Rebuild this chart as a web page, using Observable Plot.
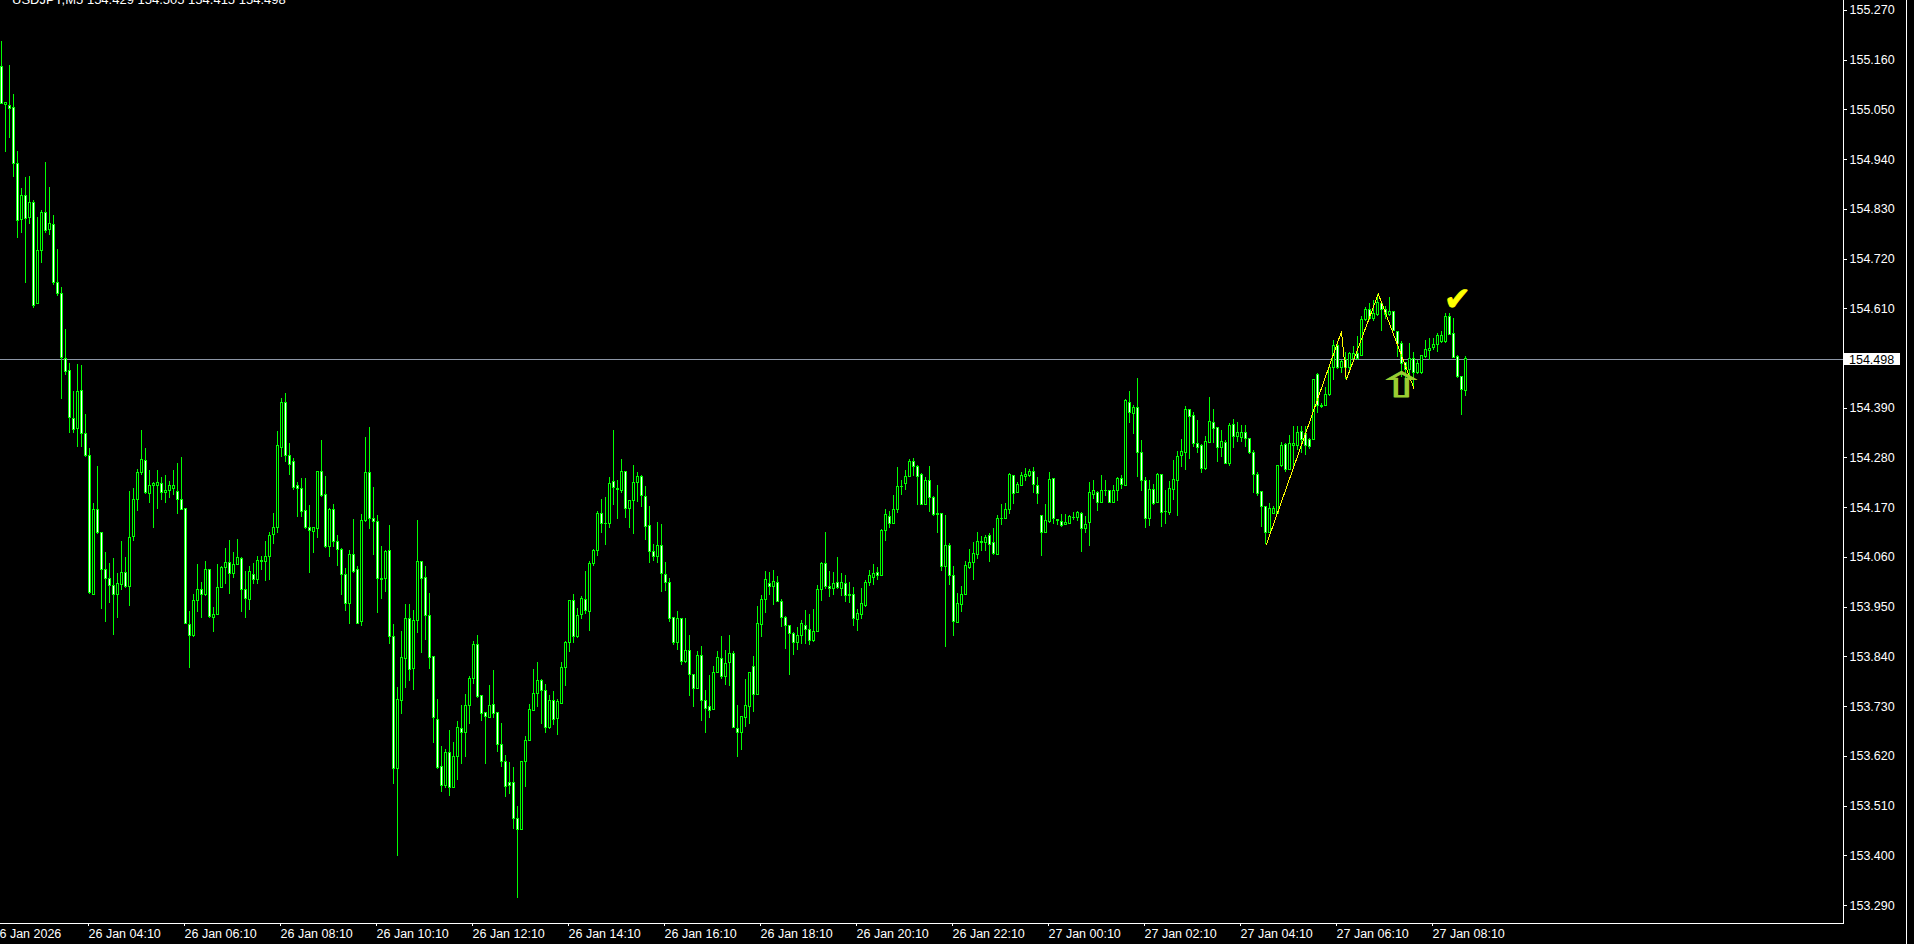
<!DOCTYPE html>
<html>
<head>
<meta charset="utf-8">
<script src="https://cdn.jsdelivr.net/npm/d3@7"></script>
<script src="https://cdn.jsdelivr.net/npm/@observablehq/plot@0.6"></script>
<style>
html, body { margin: 0; padding: 0; background: #000; overflow: hidden; }
#wrap { position: relative; width: 1914px; height: 944px; background: #000; }
#edge { position: absolute; left: 1906px; top: 0; width: 1px; height: 944px; background: #fff; }
#wrap svg line, #wrap svg rect, #wrap svg path { shape-rendering: crispEdges; }
</style>
</head>
<body>
<div id="wrap"><div id="edge"></div></div>
<script>
// ---- data (USDJPY, M5, 26-27 Jan 2026) ----
const symbol = "USDJPY,M5";
const firstBarUTC = "2026-01-26T02:20:00Z";
const barMinutes = 5;

const open = [
155.144,155.060,155.059,155.054,154.931,154.807,154.860,154.810,154.845,154.621,
154.738,154.823,154.785,154.796,154.667,154.643,154.499,154.472,154.367,154.344,
154.429,154.334,154.285,153.978,154.166,154.115,154.033,154.013,153.997,153.978,
153.998,154.026,153.995,154.105,154.187,154.247,154.274,154.201,154.219,154.219,
154.223,154.203,154.208,154.212,154.204,154.187,154.168,153.911,153.886,153.964,
153.988,153.978,154.033,153.926,153.933,153.993,154.036,154.047,154.023,154.044,
154.057,153.989,153.965,154.021,154.010,154.050,154.050,154.061,154.109,154.125,
154.302,154.401,154.284,154.271,154.218,154.212,154.163,154.125,154.116,154.122,
154.248,154.199,154.083,154.165,154.094,154.077,154.021,153.956,154.066,154.033,
153.917,154.140,154.247,154.144,154.139,154.012,154.012,154.074,153.885,153.591,
153.742,153.836,153.924,153.814,153.919,154.051,154.014,153.931,153.840,153.701,
153.597,153.555,153.627,153.550,153.619,153.681,153.671,153.731,153.791,153.867,
153.754,153.715,153.705,153.733,153.715,153.646,153.608,153.560,153.560,153.482,
153.457,153.608,153.654,153.721,153.758,153.787,153.765,153.683,153.743,153.702,
153.735,153.816,153.870,153.964,153.884,153.933,153.966,153.939,154.046,154.075,
154.157,154.134,154.134,154.226,154.212,154.207,154.249,154.168,154.185,154.225,
154.238,154.194,154.130,154.072,154.061,154.086,154.022,154.004,153.926,153.870,
153.924,153.829,153.852,153.800,153.769,153.841,153.742,153.730,153.723,153.805,
153.836,153.795,153.827,153.847,153.681,153.672,153.705,153.729,153.818,153.755,
153.911,153.966,154.002,153.995,154.004,153.961,153.927,153.909,153.891,153.871,
153.887,153.909,153.900,153.875,153.895,153.989,154.046,153.995,153.991,154.004,
153.991,154.002,153.978,153.978,153.922,153.933,153.952,154.003,154.014,154.026,
154.019,154.118,154.149,154.135,154.166,154.215,154.222,154.238,154.272,154.259,
154.242,154.177,154.230,154.192,154.155,154.157,154.039,154.086,154.020,153.915,
153.955,153.978,154.037,154.048,154.065,154.093,154.092,154.107,154.091,154.066,
154.145,154.144,154.164,154.241,154.203,154.219,154.238,154.241,154.248,154.217,
154.151,154.114,154.138,154.234,154.142,154.138,154.132,154.135,154.147,154.147,
154.157,154.123,154.136,154.199,154.203,154.181,154.206,154.207,154.181,154.208,
154.234,154.218,154.402,154.378,154.391,154.291,154.229,154.145,154.209,154.180,
154.243,154.160,154.158,154.209,154.229,154.284,154.291,154.387,154.372,154.312,
154.306,154.256,154.313,154.357,154.346,154.302,154.313,154.266,154.352,154.326,
154.324,154.336,154.323,154.290,154.243,154.204,154.172,154.113,154.157,154.157,
154.263,154.308,154.253,154.306,154.306,154.337,154.334,154.320,154.320,154.464,
154.393,154.394,154.419,154.478,154.528,154.478,154.496,154.480,154.500,154.511,
154.505,154.586,154.608,154.588,154.596,154.620,154.608,154.596,154.603,154.559,
154.533,154.490,154.474,154.500,154.467,154.467,154.503,154.517,154.523,154.531,
154.536,154.536,154.593,154.555,154.503,154.459,154.429];

const high = [
155.202,155.066,155.149,155.084,154.958,154.877,154.901,154.903,154.850,154.811,
154.828,154.934,154.878,154.816,154.741,154.658,154.564,154.488,154.427,154.487,
154.485,154.377,154.301,154.180,154.261,154.116,154.071,154.047,154.058,154.025,
154.096,154.060,154.205,154.213,154.255,154.341,154.301,154.252,154.225,154.252,
154.236,154.241,154.228,154.253,154.268,154.281,154.168,153.941,153.978,154.044,
154.004,154.051,154.034,153.950,154.044,154.039,154.080,154.098,154.070,154.100,
154.059,154.028,154.040,154.047,154.062,154.062,154.095,154.115,154.157,154.338,
154.412,154.423,154.312,154.279,154.226,154.235,154.235,154.175,154.125,154.251,
154.318,154.239,154.168,154.177,154.108,154.080,154.036,154.075,154.144,154.040,
154.155,154.325,154.347,154.214,154.152,154.084,154.075,154.130,153.911,153.772,
153.896,153.956,153.956,153.943,154.142,154.051,154.040,153.980,153.840,153.746,
153.641,153.635,153.677,153.650,153.697,153.733,153.757,153.796,153.875,153.888,
153.754,153.715,153.777,153.810,153.716,153.693,153.622,153.606,153.595,153.509,
153.608,153.664,153.734,153.812,153.827,153.790,153.778,153.755,153.763,153.745,
153.827,153.873,153.963,153.978,153.948,153.973,154.029,154.050,154.077,154.162,
154.188,154.192,154.237,154.341,154.230,154.277,154.251,154.185,154.263,154.248,
154.241,154.217,154.173,154.088,154.137,154.133,154.048,154.014,153.926,153.940,
153.924,153.925,153.887,153.800,153.852,153.863,153.766,153.799,153.819,153.852,
153.885,153.854,153.887,153.852,153.732,153.707,153.790,153.805,153.841,153.952,
153.976,154.029,154.026,154.031,154.018,153.967,153.930,153.909,153.895,153.906,
153.921,153.943,153.934,153.945,153.997,154.049,154.115,154.028,154.026,154.060,
154.025,154.020,154.005,153.994,153.944,153.992,154.009,154.031,154.044,154.038,
154.121,154.166,154.162,154.197,154.259,154.231,154.253,154.276,154.279,154.264,
154.245,154.236,154.261,154.194,154.219,154.157,154.152,154.090,154.040,153.980,
153.995,154.050,154.078,154.093,154.115,154.106,154.109,154.113,154.125,154.152,
154.178,154.179,154.245,154.241,154.226,154.248,154.257,154.255,154.259,154.237,
154.151,154.178,154.248,154.234,154.144,154.155,154.155,154.152,154.159,154.161,
154.159,154.150,154.225,154.231,154.206,154.241,154.231,154.209,154.220,154.236,
154.241,154.410,154.428,154.397,154.456,154.319,154.237,154.231,154.222,154.245,
154.243,154.209,154.228,154.275,154.295,154.321,154.393,154.388,154.381,154.363,
154.310,154.327,154.413,154.388,154.346,154.340,154.318,154.357,154.365,154.358,
154.351,154.351,154.323,154.297,154.247,154.205,154.172,154.179,154.172,154.263,
154.315,154.312,154.330,154.349,154.349,154.349,154.349,154.323,154.453,154.466,
154.400,154.437,154.480,154.540,154.533,154.496,154.514,154.514,154.526,154.548,
154.592,154.614,154.621,154.629,154.642,154.627,154.615,154.635,154.603,154.560,
154.537,154.492,154.533,154.514,154.496,154.507,154.540,154.544,154.544,154.555,
154.559,154.599,154.599,154.588,154.507,154.459,154.505];

const low = [
155.062,154.955,154.987,154.901,154.765,154.776,154.667,154.796,154.611,154.621,
154.711,154.777,154.772,154.662,154.638,154.410,154.462,154.334,154.334,154.304,
154.303,154.281,153.978,153.976,154.111,153.944,153.915,153.959,153.888,153.924,
153.987,153.991,153.952,154.096,154.161,154.241,154.199,154.179,154.124,154.165,
154.187,154.180,154.191,154.198,154.154,154.164,153.911,153.815,153.883,153.938,
153.925,153.974,153.924,153.894,153.932,153.991,154.000,153.978,154.014,154.043,
153.939,153.926,153.943,154.000,154.000,154.032,154.006,154.009,154.089,154.113,
154.281,154.270,154.242,154.207,154.149,154.149,154.122,154.025,154.069,154.103,
154.193,154.080,154.060,154.082,154.039,153.976,153.941,153.912,154.025,153.911,
153.908,154.137,154.122,154.065,153.937,153.968,153.982,153.868,153.558,153.398,
153.713,153.771,153.786,153.766,153.891,153.848,153.877,153.812,153.649,153.590,
153.539,153.548,153.532,153.549,153.567,153.603,153.618,153.690,153.778,153.747,
153.698,153.603,153.705,153.704,153.629,153.596,153.530,153.536,153.459,153.306,
153.457,153.550,153.654,153.720,153.727,153.691,153.671,153.680,153.688,153.665,
153.735,153.775,153.850,153.869,153.881,153.923,153.934,153.897,154.039,154.061,
154.114,154.086,154.123,154.175,154.144,154.202,154.147,154.125,154.111,154.181,
154.170,154.098,154.046,154.052,154.047,153.983,153.985,153.915,153.865,153.854,
153.822,153.825,153.753,153.729,153.769,153.696,153.671,153.704,153.723,153.803,
153.791,153.777,153.775,153.681,153.618,153.633,153.683,153.691,153.718,153.755,
153.882,153.935,153.976,153.954,153.960,153.904,153.857,153.799,153.843,153.854,
153.867,153.868,153.866,153.871,153.895,153.963,153.990,153.972,153.976,153.989,
153.974,153.961,153.958,153.908,153.896,153.923,153.950,153.996,153.997,154.008,
154.017,154.096,154.125,154.132,154.157,154.196,154.208,154.238,154.238,154.175,
154.175,154.177,154.160,154.151,154.113,154.029,153.860,153.997,153.886,153.913,
153.939,153.975,154.033,154.009,154.056,154.073,154.073,154.048,154.064,154.064,
154.131,154.144,154.155,154.177,154.201,154.217,154.228,154.237,154.201,154.178,
154.063,154.114,154.136,154.133,154.130,154.127,154.131,154.133,154.142,154.140,
154.070,154.113,154.085,154.188,154.161,154.180,154.195,154.180,154.180,154.183,
154.210,154.218,154.356,154.332,154.236,154.205,154.123,154.129,154.175,154.179,
154.127,154.133,154.153,154.186,154.151,154.258,154.253,154.277,154.304,154.291,
154.245,154.253,154.313,154.313,154.270,154.281,154.266,154.262,154.302,154.314,
154.315,154.303,154.288,154.201,154.194,154.127,154.088,154.113,154.155,154.157,
154.260,154.249,154.253,154.256,154.297,154.290,154.286,154.298,154.319,154.378,
154.389,154.393,154.415,154.452,154.475,154.467,154.453,154.474,154.498,154.496,
154.505,154.581,154.585,154.583,154.593,154.559,154.587,154.592,154.559,154.503,
154.459,154.452,154.459,154.437,154.464,154.465,154.500,154.496,154.518,154.514,
154.533,154.533,154.551,154.500,154.455,154.373,154.415];

const close = [
155.064,155.066,155.053,154.931,154.804,154.860,154.809,154.845,154.617,154.738,
154.823,154.782,154.798,154.667,154.643,154.501,154.471,154.369,154.342,154.427,
154.334,154.284,153.981,154.164,154.113,154.032,154.013,153.997,153.976,154.001,
154.025,153.995,154.104,154.187,154.247,154.276,154.203,154.217,154.222,154.224,
154.203,154.208,154.218,154.218,154.188,154.166,153.913,153.886,153.964,153.988,
153.978,154.033,153.929,153.932,153.993,154.036,154.048,154.024,154.044,154.058,
153.989,153.967,154.027,154.010,154.052,154.052,154.061,154.107,154.125,154.307,
154.402,154.285,154.264,154.214,154.212,154.160,154.125,154.119,154.125,154.248,
154.197,154.083,154.164,154.094,154.076,154.021,153.956,154.066,154.027,153.913,
154.141,154.247,154.145,154.139,154.012,154.011,154.073,153.885,153.591,153.745,
153.837,153.924,153.811,153.919,154.051,154.012,153.931,153.838,153.704,153.594,
153.555,153.627,153.550,153.619,153.683,153.671,153.731,153.791,153.867,153.751,
153.713,153.707,153.731,153.713,153.645,153.608,153.553,153.554,153.482,153.457,
153.608,153.654,153.723,153.758,153.787,153.765,153.683,153.743,153.700,153.741,
153.816,153.870,153.963,153.884,153.931,153.968,153.941,154.046,154.075,154.157,
154.134,154.135,154.223,154.214,154.210,154.249,154.168,154.185,154.225,154.238,
154.196,154.128,154.072,154.061,154.086,154.024,154.004,153.924,153.870,153.924,
153.829,153.854,153.800,153.769,153.841,153.742,153.724,153.721,153.805,153.838,
153.795,153.825,153.847,153.683,153.672,153.707,153.732,153.805,153.756,153.913,
153.966,154.009,153.995,154.005,153.961,153.926,153.908,153.891,153.871,153.887,
153.912,153.900,153.875,153.896,153.989,154.046,153.995,153.991,154.002,153.992,
154.004,153.975,153.975,153.924,153.934,153.956,154.004,154.018,154.024,154.019,
154.119,154.155,154.135,154.166,154.216,154.216,154.239,154.272,154.259,154.238,
154.177,154.230,154.191,154.153,154.156,154.039,154.086,154.020,153.917,153.956,
153.978,154.040,154.048,154.067,154.094,154.094,154.104,154.088,154.068,154.146,
154.146,154.166,154.242,154.201,154.220,154.241,154.243,154.250,154.221,154.200,
154.114,154.141,154.232,154.146,154.140,154.130,154.137,154.150,154.148,154.159,
154.124,154.131,154.203,154.206,154.181,154.206,154.207,154.181,154.208,154.234,
154.220,154.405,154.380,154.391,154.290,154.229,154.145,154.209,154.179,154.242,
154.158,154.161,154.211,154.231,154.282,154.293,154.387,154.371,154.312,154.302,
154.256,154.315,154.359,154.344,154.302,154.315,154.266,154.350,154.327,154.335,
154.336,154.322,154.290,154.243,154.201,154.172,154.113,154.168,154.168,154.263,
154.306,154.253,154.312,154.310,154.336,154.320,154.306,154.304,154.452,154.396,
154.396,154.419,154.478,154.528,154.478,154.492,154.480,154.511,154.511,154.500,
154.586,154.608,154.588,154.599,154.623,154.608,154.596,154.603,154.560,154.533,
154.489,154.474,154.500,154.467,154.489,154.505,154.518,154.522,154.531,154.549,
154.549,154.593,154.553,154.501,154.459,154.430,154.498];

const bidPrice = 154.498;

const yTicks = [155.270,155.160,155.050,154.940,154.830,154.720,154.610,154.390,154.280,
  154.170,154.060,153.950,153.840,153.730,153.620,153.510,153.400,153.290];

const xTickTimes = [
"2026-01-26T02:10:00Z","2026-01-26T04:10:00Z","2026-01-26T06:10:00Z","2026-01-26T08:10:00Z",
"2026-01-26T10:10:00Z","2026-01-26T12:10:00Z","2026-01-26T14:10:00Z","2026-01-26T16:10:00Z",
"2026-01-26T18:10:00Z","2026-01-26T20:10:00Z","2026-01-26T22:10:00Z","2026-01-27T00:10:00Z",
"2026-01-27T02:10:00Z","2026-01-27T04:10:00Z","2026-01-27T06:10:00Z","2026-01-27T08:10:00Z"];
const xTickLabels = [
"26 Jan 2026","26 Jan 04:10","26 Jan 06:10","26 Jan 08:10","26 Jan 10:10","26 Jan 12:10",
"26 Jan 14:10","26 Jan 16:10","26 Jan 18:10","26 Jan 20:10","26 Jan 22:10","27 Jan 00:10",
"27 Jan 02:10","27 Jan 04:10","27 Jan 06:10","27 Jan 08:10"];

// yellow zig-zag drawn on the chart (bar position, price)
const zigzagBar = [316.2, 335.0, 336.2, 344.2, 353.1];
const zigzagPrice = [154.088, 154.560, 154.453, 154.643, 154.434];

// chart symbols: up arrow and tick mark
const symText = ["\u21E7", "\u2714"];
const symBar = [350.0, 364.0];
const symPrice = [154.440, 154.630];
const symColor = ["#9acd32", "#ffff00"];
const symSize = [34, 32];
const symWiden = [1.8, 1.0];

// ---- build ----
const t0 = Date.parse(firstBarUTC);
const barMs = barMinutes * 60000;
const atBar = b => new Date(t0 + b * barMs);
const bars = open.map((o, i) => ({
  date: atBar(i), open: o, high: high[i], low: low[i], close: close[i]
}));
const half = barMs / 4; // body half width
const zigzag = zigzagBar.map((b, i) => ({date: atBar(b), price: zigzagPrice[i]}));
const syms = symText.map((t, i) => ({date: atBar(symBar[i]), price: symPrice[i], text: t, color: symColor[i], size: symSize[i]}));
const tickDates = xTickTimes.map(s => new Date(s));
const labelOf = new Map(tickDates.map((d, i) => [+d, xTickLabels[i]]));
const dojis = bars.filter(d => Math.abs(d.close - d.open) < 0.0005);

const font = "'Liberation Sans', Arial, sans-serif";
const chart = Plot.plot({
  width: 1914,
  height: 944,
  marginTop: 0,
  marginLeft: 0,
  marginRight: 71,
  marginBottom: 21,
  style: {background: "#000", color: "#fff", fontFamily: font, fontSize: "12.5px"},
  x: {type: "utc", domain: [atBar(-0.25), atBar(460.5)], label: null},
  y: {domain: [153.2502, 155.2921], label: null},
  marks: [
    Plot.ruleY([bidPrice], {stroke: "#8c96a6", strokeWidth: 1}),
    Plot.ruleX(bars, {x: "date", y1: "low", y2: "high", stroke: "#00ff00", strokeWidth: 1}),
    Plot.rect(bars, {
      x1: d => new Date(+d.date - half),
      x2: d => new Date(+d.date + half),
      y1: "open", y2: "close",
      fill: d => d.close < d.open ? "#ffffff" : "#000000",
      stroke: "#00ff00", strokeWidth: 1
    }),
    Plot.ruleY(dojis, {x1: d => new Date(+d.date - 1.5 * half), x2: d => new Date(+d.date + 1.5 * half), y: "close", stroke: "#00ff00"}),
    Plot.line(zigzag, {x: "date", y: "price", stroke: "#ffff00", strokeWidth: 1}),
    Plot.text(syms, {x: "date", y: "price", text: "text", fill: "color", stroke: "color", strokeWidth: 0.8, fontSize: "size", fontFamily: "DejaVu Sans", textAnchor: "middle", lineAnchor: "middle"}),
    Plot.axisY(yTicks, {anchor: "right", tickSize: 3, tickPadding: 3, tickFormat: d => d.toFixed(3), fontSize: 12.5, label: null, stroke: "#fff", fill: "#fff"}),
    Plot.axisX(tickDates, {anchor: "bottom", tickSize: 3, tickPadding: 3, tickFormat: d => labelOf.get(+d), textAnchor: "start", dx: -1, fontSize: 12.5, label: null, stroke: "#fff", fill: "#fff"})
  ]
});

document.getElementById("wrap").appendChild(chart);

const svg = d3.select(chart);

// widen the outline arrow glyph horizontally
svg.selectAll("text").each(function () {
  const idx = symText.indexOf(this.textContent);
  if (idx >= 0 && symWiden[idx] !== 1) {
    const tr = this.getAttribute("transform") || "";
    this.setAttribute("transform", tr + ` scale(${symWiden[idx]},1)`);
  }
});

// frame lines, bid label, header
const ys = chart.scale("y");
const plotRight = 1914 - 71, plotBottom = 944 - 21;
svg.append("line").attr("x1", 0).attr("x2", plotRight + 0.5).attr("y1", plotBottom + 0.5).attr("y2", plotBottom + 0.5).attr("stroke", "#fff");
svg.append("line").attr("x1", plotRight + 0.5).attr("x2", plotRight + 0.5).attr("y1", 0).attr("y2", plotBottom + 0.5).attr("stroke", "#fff");
const yb = Math.round(ys.apply(bidPrice)) + 0.5;
svg.append("rect").attr("x", plotRight + 1).attr("y", yb - 6.5).attr("width", 56).attr("height", 12).attr("fill", "#fff");
svg.append("text").attr("x", plotRight + 6).attr("y", yb).attr("dy", "0.34em").attr("fill", "#000")
  .attr("text-anchor", "start").attr("font-size", 12.5).attr("font-family", font).text(bidPrice.toFixed(3));
const last = bars[bars.length - 1];
svg.append("text").attr("x", 12).attr("y", 4).attr("fill", "#fff").attr("text-anchor", "start")
  .attr("font-size", 13).attr("font-family", font)
  .text(`${symbol} ${last.open.toFixed(3)} ${last.high.toFixed(3)} ${last.low.toFixed(3)} ${last.close.toFixed(3)}`);
</script>
</body>
</html>
